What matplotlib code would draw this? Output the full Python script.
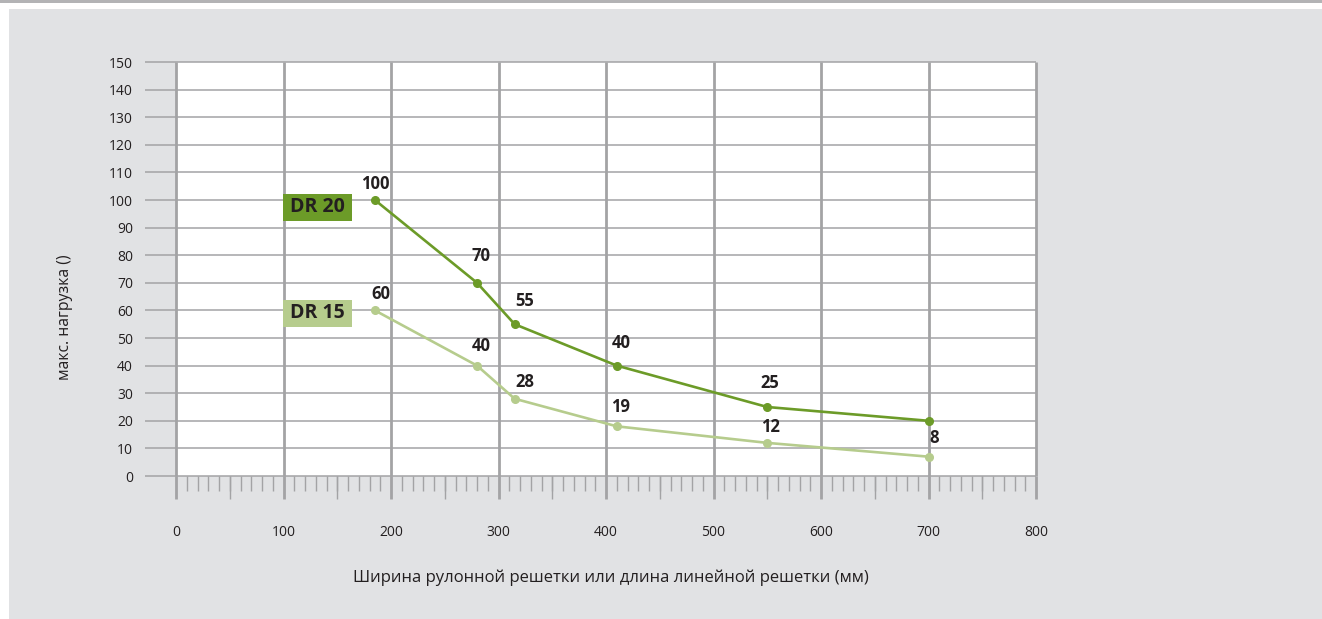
import matplotlib
matplotlib.use("Agg")
import matplotlib.pyplot as plt
from matplotlib.patches import Rectangle
import numpy as np

plt.rcParams['font.family'] = ['Open Sans', 'DejaVu Sans']

# ---- data ----
widths = [185, 280, 315, 410, 550, 700]
dr20_values = [100, 70, 55, 40, 25, 20]
dr15_values = [60, 40, 28, 18, 12, 7]
dr20_labels = ["100", "70", "55", "40", "25", ""]
dr15_labels = ["60", "40", "28", "19", "12", "8"]
x_ticks = list(range(0, 801, 100))
y_ticks = list(range(0, 151, 10))
series_names = ["DR 20", "DR 15"]
x_label = "Ширина рулонной решетки или длина линейной решетки (мм)"
y_label = "макс. нагрузка ()"

# ---- style ----
W, H = 1322, 619
DPI = 100
px = 72.0 / DPI  # points per pixel
bg = "#e1e2e4"
grid_c = "#a3a3a5"
c20 = "#6c9b28"
c15 = "#b6cc8d"
txt_c = "#231f20"

# label offsets in pixels (dx, dy)
dr20_offsets = [(0, 16), (4, 27), (10, 23), (4, 23), (3, 24), (0, 0)]
dr15_offsets = [(6, 16), (4, 20), (10, 17), (4, 19), (3, 16), (6, 19)]

fig = plt.figure(figsize=(W / DPI, H / DPI), dpi=DPI, facecolor="white")
# background panel
fig.patches.append(Rectangle((9 / W, 0), 1 - 9 / W, (H - 9) / H, transform=fig.transFigure,
                             facecolor=bg, edgecolor="none", zorder=-10))
fig.patches.append(Rectangle((0, (H - 3) / H), 1, 3 / H, transform=fig.transFigure,
                             facecolor="#b3b3b5", edgecolor="none", zorder=-10))

left, right, top, bottom = 176, 1036, 62, 476
ax = fig.add_axes([left / W, (H - bottom) / H, (right - left) / W, (bottom - top) / H])
ax.set_facecolor("white")
ax.set_xlim(0, 800)
ax.set_ylim(0, 150)
for s in ax.spines.values():
    s.set_visible(False)

xs_per_px = 800 / (right - left)
ys_per_px = 150 / (bottom - top)

# horizontal grid lines
ax.hlines(y_ticks, 0, 800, colors=grid_c, linewidth=1.1, zorder=1, clip_on=False)
# vertical grid lines
ax.vlines(x_ticks, 0, 150, colors=grid_c, linewidth=2.0, zorder=1.5, clip_on=False)

# y ticks as left extensions
ax.set_yticks(y_ticks)
ax.tick_params(axis="y", direction="out", length=31 * px, width=1.1, color=grid_c,
               pad=12 * px, labelsize=10, labelcolor=txt_c)

# x ticks
ax.set_xticks(x_ticks)
ax.tick_params(axis="x", which="major", direction="out", length=23 * px, width=2.0,
               color=grid_c, pad=26 * px, labelsize=10, labelcolor=txt_c)
minor = [v for v in range(0, 801, 10) if v % 100 != 0]
ax.set_xticks(minor, minor=True)
ax.tick_params(axis="x", which="minor", direction="out", length=15 * px, width=1.0,
               color=grid_c)
# half-hundred ticks longer
halves = [v for v in range(50, 800, 100)]
ax.vlines(halves, -23 * ys_per_px, 0, colors=grid_c, linewidth=1.0, clip_on=False, zorder=1)

# series
ax.plot(widths, dr20_values, color=c20, linewidth=1.9, marker="o", markersize=5.5,
        zorder=4, clip_on=False)
ax.plot(widths, dr15_values, color=c15, linewidth=1.9, marker="o", markersize=5.5,
        zorder=3, clip_on=False)

for xv, yv, lab, off in zip(widths, dr20_values, dr20_labels, dr20_offsets):
    if lab:
        ax.annotate(lab, (xv, yv), xytext=(off[0] * px, off[1] * px), textcoords="offset points",
                    ha="center", va="center", fontsize=12, fontweight="bold", color=txt_c, zorder=6)
for xv, yv, lab, off in zip(widths, dr15_values, dr15_labels, dr15_offsets):
    if lab:
        ax.annotate(lab, (xv, yv), xytext=(off[0] * px, off[1] * px), textcoords="offset points",
                    ha="center", va="center", fontsize=12, fontweight="bold", color=txt_c, zorder=6)

# series name boxes (pixel placement)
def name_box(name, color, ytop, ybot):
    x0, x1 = 283, 352
    ax.add_patch(Rectangle(((x0 - left) * xs_per_px, (bottom - ybot) * ys_per_px),
                           (x1 - x0) * xs_per_px, (ybot - ytop) * ys_per_px,
                           facecolor=color, edgecolor="none", zorder=5, clip_on=False))
    ax.text(((x0 + x1) / 2 - left) * xs_per_px, (bottom - (ytop + ybot) / 2) * ys_per_px, name,
            ha="center", va="center", fontsize=14, fontweight="bold", color=txt_c, zorder=6)

name_box(series_names[0], c20, 194, 221)
name_box(series_names[1], c15, 300, 327)

fig.text(611 / W, 1 - 578 / H, x_label, ha="center", va="center", fontsize=12, color=txt_c)
fig.text(65 / W, 1 - 317 / H, y_label, ha="center", va="center", rotation=90, fontsize=11.3,
         color=txt_c)

fig.savefig("out.png", dpi=DPI, facecolor=fig.get_facecolor())
